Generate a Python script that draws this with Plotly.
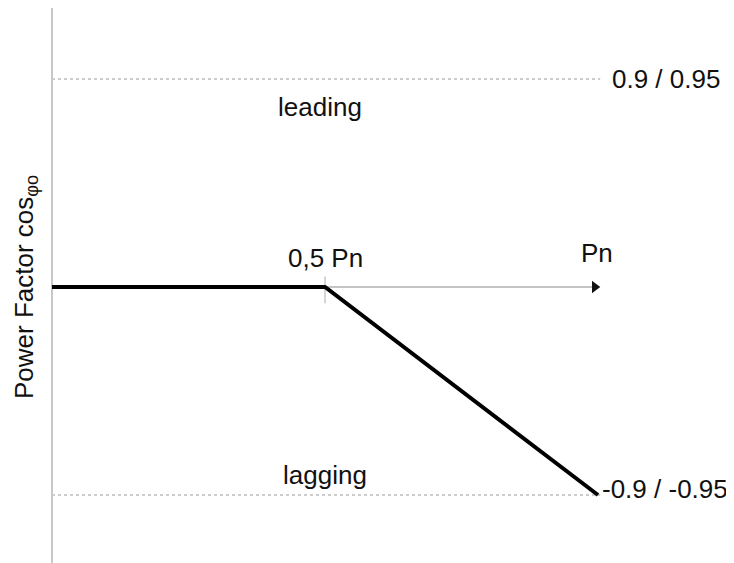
import plotly.graph_objects as go

# Data
p_points = [0.0, 0.5, 1.0]          # active power (fraction of Pn)
pf_points = [0.0, 0.0, -0.9]        # power factor set-point curve
upper_limit = 0.9                   # leading limit
lower_limit = -0.9                  # lagging limit
p_knee = 0.5
p_max = 1.0
upper_label = "0.9 / 0.95"
lower_label = "-0.9 / -0.95"
knee_label = "0,5 Pn"
axis_label = "Pn"
region_labels = ["leading", "lagging"]
y_title = "Power Factor cos<sub>φo</sub>"

font_family = "Liberation Sans, Arial, sans-serif"

fig = go.Figure()

# dotted limit lines
for lvl in (upper_limit, lower_limit):
    fig.add_trace(go.Scatter(x=[0, p_max + 0.004], y=[lvl, lvl], mode="lines",
                             line=dict(color="#9a9a9a", width=1, dash="dot"),
                             hoverinfo="skip", showlegend=False))

# vertical axis line
fig.add_trace(go.Scatter(x=[0, 0], y=[1.21, -1.23], mode="lines",
                         line=dict(color="#c8c8c8", width=2),
                         hoverinfo="skip", showlegend=False))

# horizontal P axis with arrow
fig.add_trace(go.Scatter(x=[p_knee, p_max - 0.01], y=[0, 0], mode="lines",
                         line=dict(color="#8a8a8a", width=1),
                         hoverinfo="skip", showlegend=False))
fig.add_trace(go.Scatter(x=[p_max - 0.006], y=[0], mode="markers",
                         marker=dict(symbol="triangle-right", size=11, color="#111"),
                         hoverinfo="skip", showlegend=False))
# tick at knee
fig.add_trace(go.Scatter(x=[p_knee, p_knee], y=[0.045, -0.07], mode="lines",
                         line=dict(color="#c8c8c8", width=1.5),
                         hoverinfo="skip", showlegend=False))

# main curve
fig.add_trace(go.Scatter(x=p_points, y=pf_points, mode="lines",
                         line=dict(color="#000", width=4),
                         hoverinfo="skip", showlegend=False))

ann_font = dict(family=font_family, size=26, color="#111")
fig.add_annotation(x=0.491, y=0.78, text=region_labels[0], showarrow=False, font=ann_font)
fig.add_annotation(x=0.5, y=-0.815, text=region_labels[1], showarrow=False, font=ann_font)
fig.add_annotation(x=p_knee, y=0.125, text=knee_label, showarrow=False, font=ann_font)
fig.add_annotation(x=p_max - 0.002, y=0.147, text=axis_label, showarrow=False, font=ann_font)
fig.add_annotation(x=1.022, y=upper_limit, text=upper_label, showarrow=False,
                   xanchor="left", font=ann_font)
fig.add_annotation(x=1.004, y=lower_limit + 0.025, text=lower_label, showarrow=False,
                   xanchor="left", font=ann_font)
fig.add_annotation(x=-0.0495, y=0, text=y_title, showarrow=False, textangle=-90,
                   font=dict(family=font_family, size=26, color="#111"))

fig.update_layout(
    width=734, height=563,
    margin=dict(l=0, r=0, t=0, b=0),
    paper_bgcolor="white", plot_bgcolor="white",
    xaxis=dict(range=[-0.0806, 1.2637], visible=False, showgrid=False, zeroline=False),
    yaxis=dict(range=[-1.2289, 1.2073], visible=False, showgrid=False, zeroline=False),
    showlegend=False,
)

fig.write_html("out.html")
